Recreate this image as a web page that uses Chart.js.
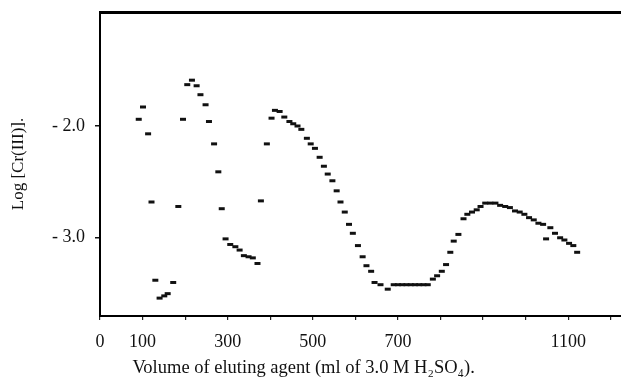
<!DOCTYPE html>
<html>
<head>
<meta charset="utf-8">
<script src="https://cdn.jsdelivr.net/npm/chart.js@4.4.1/dist/chart.umd.min.js"></script>
<style>
    html, body { margin: 0; padding: 0; background: #ffffff; overflow: hidden; }
    canvas { display: block; }
</style>
</head>
<body>
<canvas id="myChartCanvasCromo" width="621" height="380"></canvas>
<script>
// valores: volume (ml) e log [Cr(III)]
let volumes = [
    91, 101, 113, 121, 130, 140, 151, 159, 172, 184,
    195, 205, 216, 227, 236, 248, 256, 268, 278, 286,
    295, 306, 318, 328, 338, 349, 359, 370, 378, 392,
    403, 411, 422, 433, 445, 454, 464, 473, 486, 495,
    505, 516, 526, 535, 546, 556, 565, 575, 585, 594,
    606, 617, 626, 637, 645, 659, 676, 690, 700, 710,
    720, 730, 740, 750, 760, 770, 782, 792, 803, 813,
    823, 831, 842, 854, 863, 874, 885, 894, 905, 917,
    929, 940, 952, 963, 975, 986, 997, 1008, 1019, 1030,
    1041, 1048, 1058, 1069, 1081, 1091, 1102, 1112, 1121
];
let logCr = [
    -1.94, -1.83, -2.07, -2.68, -3.38, -3.54, -3.52, -3.50, -3.40, -2.72,
    -1.94, -1.63, -1.59, -1.64, -1.72, -1.81, -1.96, -2.16, -2.41, -2.74,
    -3.01, -3.06, -3.08, -3.11, -3.16, -3.17, -3.18, -3.23, -2.67, -2.16,
    -1.93, -1.86, -1.87, -1.92, -1.96, -1.98, -2.00, -2.03, -2.11, -2.16,
    -2.20, -2.28, -2.36, -2.43, -2.49, -2.58, -2.68, -2.77, -2.88, -2.96,
    -3.07, -3.17, -3.25, -3.30, -3.40, -3.42, -3.46, -3.42, -3.42, -3.42,
    -3.42, -3.42, -3.42, -3.42, -3.42, -3.42, -3.37, -3.34, -3.30, -3.24,
    -3.13, -3.03, -2.97, -2.83, -2.79, -2.77, -2.75, -2.72, -2.69, -2.69,
    -2.69, -2.71, -2.72, -2.73, -2.76, -2.77, -2.79, -2.82, -2.84, -2.87,
    -2.88, -3.01, -2.91, -2.96, -3.00, -3.02, -3.05, -3.07, -3.13
];
let xTicks = [0, 100, 200, 300, 400, 500, 600, 700, 800, 900, 1000, 1100, 1200];
let xLabels = [0, 100, 300, 500, 700, 1100];
let yTicks = [-2.0, -3.0];

plotarGrafico();

function semPadding(scale) {
    scale.paddingTop = 0;
    scale.paddingBottom = 0;
    scale.paddingLeft = 0;
    scale.paddingRight = 0;
}

function plotarGrafico() {
    Chart.defaults.color = '#111111';
    Chart.defaults.font.family = "'Liberation Serif', 'DejaVu Serif', serif";
    Chart.defaults.font.size = 18;

    let pontos = volumes.map(function (v, i) {
        return { x: v, y: logCr[i] };
    });

    let chartData = {
        datasets: [{
            data: pontos,
            pointStyle: 'line',
            pointRadius: 3,
            pointBorderWidth: 3,
            borderColor: '#111111',
            backgroundColor: '#111111',
            showLine: false
        }]
    };

    const config = {
        type: 'scatter',
        data: chartData,
        options: {
            responsive: false,
            animation: false,
            devicePixelRatio: 1,
            layout: { padding: 0, autoPadding: false },
            scales: {
                x: {
                    type: 'linear',
                    position: 'bottom',
                    min: 0,
                    max: 1224,
                    afterBuildTicks: function (axis) {
                        axis.ticks = xTicks.map(function (v) { return { value: v }; });
                    },
                    afterFit: function (scale) { scale.height = 64; semPadding(scale); },
                    ticks: {
                        autoSkip: false,
                        maxRotation: 0,
                        padding: 11,
                        callback: function (v) { return xLabels.includes(v) ? String(v) : ''; }
                    },
                    grid: { drawOnChartArea: false, tickLength: 4, color: '#222222', lineWidth: 1.2 },
                    border: { color: '#000000', width: 2 },
                    title: {
                        display: true,
                        align: 'start',
                        // espaços no início para deslocar o título como no original
                        text: '\u2002\u2002\u2002 Volume of eluting agent (ml of 3.0 M H\u2082SO\u2084).',
                        font: { size: 18.5 },
                        padding: { top: 0, bottom: 1 }
                    }
                },
                x2: {
                    type: 'linear',
                    position: 'top',
                    min: 0,
                    max: 1224,
                    afterFit: function (scale) { scale.height = 12; semPadding(scale); },
                    ticks: { display: false },
                    grid: { display: false },
                    border: { color: '#000000', width: 3 }
                },
                y: {
                    min: -3.7,
                    max: -0.98,
                    afterBuildTicks: function (axis) {
                        axis.ticks = yTicks.map(function (v) { return { value: v }; });
                    },
                    afterFit: function (scale) { scale.width = 100; semPadding(scale); },
                    ticks: {
                        padding: 10,
                        callback: function (v) { return '- ' + Math.abs(v).toFixed(1); }
                    },
                    grid: { drawOnChartArea: false, tickLength: 5, color: '#111111', lineWidth: 1.5 },
                    border: { color: '#000000', width: 2 },
                    title: {
                        display: true,
                        text: 'Log [Cr(III)].',
                        font: { size: 17 },
                        padding: { top: 8, bottom: 0 }
                    }
                }
            },
            plugins: {
                legend: { display: false },
                tooltip: { enabled: false }
            }
        }
    };

    let myChart = new Chart(
        document.getElementById('myChartCanvasCromo'),
        config
    );
}
</script>
</body>
</html>
